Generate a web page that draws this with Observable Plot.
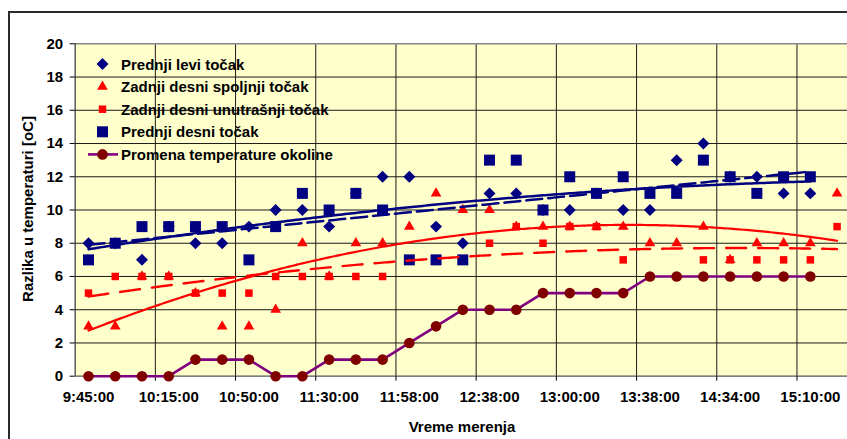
<!DOCTYPE html>
<html><head><meta charset="utf-8">
<script src="https://cdn.jsdelivr.net/npm/d3@7"></script>
<script src="https://cdn.jsdelivr.net/npm/@observablehq/plot@0.6"></script>
<style>
html,body{margin:0;padding:0;background:#fff;overflow:hidden;}
#wrap{position:relative;width:847px;height:439px;overflow:hidden;}
#wrap svg{position:absolute;left:0;top:0;}
#border{position:absolute;left:8px;top:11px;width:900px;height:500px;border-left:2px solid #2b2b2b;border-top:2px solid #2b2b2b;pointer-events:none;}
</style></head><body><div id="wrap"><div id="border"></div></div>
<script>
// ---- data ----
const tickLabels = ["9:45:00","10:15:00","10:50:00","11:30:00","11:58:00","12:38:00","13:00:00","13:38:00","14:34:00","15:10:00"];
const seriesNames = ["Prednji levi točak","Zadnji desni spoljnji točak","Zadnji desni unutrašnji točak","Prednji desni točak","Promena temperature okoline"];
const prednjiLevi   = [8,8,7,9,8,8,9,10,10,9,11,12,12,9,8,11,11,10,10,11,10,10,13,14,12,12,11,11];
const zadnjiSpolj   = [3,3,6,6,5,3,3,4,8,6,8,8,9,11,10,10,9,9,9,9,9,8,8,9,7,8,8,8,11];
const zadnjiUnutr   = [5,6,6,6,5,5,5,6,6,6,6,6,7,7,7,8,9,8,9,9,7,null,null,7,7,7,7,7,9];
const prednjiDesni  = [7,8,9,9,9,9,7,9,11,10,11,10,7,7,7,13,13,10,12,11,12,11,11,13,12,11,12,12];
const okolina       = [0,0,0,0,1,1,1,0,0,1,1,1,2,3,4,4,4,5,5,5,5,6,6,6,6,6,6,6];
const yTicks = [0,2,4,6,8,10,12,14,16,18,20];

// ---- styles ----
const NAVY = "#000080", RED = "#FF0000", PURPLE = "#800080", MAROON = "#800000";
const FONT = "'Liberation Sans', Arial, sans-serif";
const FS = 15;
const nCat = zadnjiSpolj.length;
const labelStep = 3;

// ---- helpers ----
const toPts = arr => arr.map((v, i) => ({i, v})).filter(d => d.v != null);
function solve(A, b) {
  const n = b.length; A = A.map(r => r.slice()); b = b.slice();
  for (let c = 0; c < n; c++) {
    let p = c; for (let r = c + 1; r < n; r++) if (Math.abs(A[r][c]) > Math.abs(A[p][c])) p = r;
    [A[c], A[p]] = [A[p], A[c]]; [b[c], b[p]] = [b[p], b[c]];
    for (let r = c + 1; r < n; r++) { const f = A[r][c] / A[c][c]; for (let k = c; k < n; k++) A[r][k] -= f * A[c][k]; b[r] -= f * b[c]; }
  }
  const x = new Array(n).fill(0);
  for (let r = n - 1; r >= 0; r--) { let s = b[r]; for (let k = r + 1; k < n; k++) s -= A[r][k] * x[k]; x[r] = s / A[r][r]; }
  return x;
}
function polyFit(pts, deg, tx = t => t) {
  const m = deg + 1, A = Array.from({length: m}, () => new Array(m).fill(0)), b = new Array(m).fill(0);
  for (const {i, v} of pts) { const t = tx(i); for (let r = 0; r < m; r++) { b[r] += v * t ** r; for (let c = 0; c < m; c++) A[r][c] += t ** (r + c); } }
  const co = solve(A, b);
  return i => co.reduce((s, c, k) => s + c * tx(i) ** k, 0);
}
function trend(arr, f) {
  const pts = toPts(arr); const last = pts[pts.length - 1].i;
  return d3.range(0, last + 1e-9, 0.1).map(i => ({i, v: f(i)}));
}
const trLevi   = trend(prednjiLevi,  polyFit(toPts(prednjiLevi), 2));
const trDesni  = trend(prednjiDesni, polyFit(toPts(prednjiDesni), 1));
const trSpolj  = trend(zadnjiSpolj,  polyFit(toPts(zadnjiSpolj), 2));
const trUnutr  = trend(zadnjiUnutr,  polyFit(toPts(zadnjiUnutr), 2));

const boundaries = d3.range(labelStep - 0.5, nCat, labelStep);
const labelIdx = tickLabels.map((_, k) => k * labelStep);

const chart = Plot.plot({
  width: 847, height: 439,
  marginLeft: 74.65, marginRight: 0, marginTop: 43.3, marginBottom: 63.3,
  x: {type: "linear", domain: [-0.5, 28.39]},
  y: {domain: [0, 20]},
  style: {fontFamily: FONT, fontSize: FS + "px", fontWeight: "bold", color: "#000", background: "transparent", overflow: "visible"},
  marks: [
    Plot.frame({fill: "#FFFFCC", stroke: null}),
    Plot.ruleY(yTicks.filter(t => t > 0 && t < 20), {stroke: "#1a1a1a", strokeWidth: 1}),
    Plot.ruleX(boundaries, {stroke: "#1a1a1a", strokeWidth: 1}),
    Plot.ruleY([20], {stroke: "#888", strokeWidth: 1.5}),
    Plot.ruleY([0], {stroke: "#555", strokeWidth: 1.2}),
    Plot.ruleX([-0.5], {stroke: "#333", strokeWidth: 1.2}),
    Plot.axisY({ticks: yTicks, tickSize: 5, tickPadding: 7, label: null, fontWeight: "bold", fontSize: FS}),
    Plot.axisX({ticks: labelIdx, tickFormat: i => tickLabels[i / labelStep], tickSize: 0, tickPadding: 15, label: null, fontWeight: "bold", fontSize: FS}),
    Plot.axisX({ticks: boundaries, tickFormat: () => "", tickSize: 5, label: null}),
    Plot.dot(toPts(prednjiLevi), {x: "i", y: "v", symbol: "diamond2", r: 5.4, fill: NAVY, stroke: null}),
    Plot.dot(toPts(zadnjiSpolj), {x: "i", y: "v", symbol: "triangle", r: 3.97, fill: RED, stroke: null}),
    Plot.dot(toPts(zadnjiUnutr), {x: "i", y: "v", symbol: "square", r: 4.23, fill: RED, stroke: null}),
    Plot.dot(toPts(prednjiDesni), {x: "i", y: "v", symbol: "square", r: 6.2, fill: NAVY, stroke: null}),
    Plot.line(toPts(okolina), {x: "i", y: "v", stroke: PURPLE, strokeWidth: 2.6}),
    Plot.dot(toPts(okolina), {x: "i", y: "v", r: 5.3, fill: MAROON, stroke: null}),
    Plot.line(trLevi, {x: "i", y: "v", stroke: NAVY, strokeWidth: 2.5, curve: "linear"}),
    Plot.line(trDesni, {x: "i", y: "v", stroke: NAVY, strokeWidth: 2.5, strokeDasharray: "16,6"}),
    Plot.line(trSpolj, {x: "i", y: "v", stroke: RED, strokeWidth: 2.2}),
    Plot.line(trUnutr, {x: "i", y: "v", stroke: RED, strokeWidth: 2.4, strokeDasharray: "20,12"})
  ]
});

const svg = d3.select(chart);
// axis titles
svg.append("text").attr("transform", "translate(27.5,209) rotate(-90)")
  .attr("text-anchor", "middle").attr("dominant-baseline", "central")
  .attr("font-family", FONT).attr("font-size", FS).attr("font-weight", "bold").attr("fill", "#000")
  .text("Razlika u temperaturi [oC]");
svg.append("text").attr("x", 462).attr("y", 426.5)
  .attr("text-anchor", "middle").attr("dominant-baseline", "central")
  .attr("font-family", FONT).attr("font-size", FS).attr("font-weight", "bold").attr("fill", "#000")
  .text("Vreme merenja");

// legend
const legendSym = [
  {sym: d3.symbolDiamond2, size: Math.PI * 5.4 ** 2, fill: NAVY},
  {sym: d3.symbolTriangle, size: Math.PI * 3.97 ** 2, fill: RED},
  {sym: d3.symbolSquare, size: Math.PI * 4.23 ** 2, fill: RED},
  {sym: d3.symbolSquare, size: Math.PI * 6.2 ** 2, fill: NAVY},
  {sym: d3.symbolCircle, size: Math.PI * 5.3 ** 2, fill: MAROON, line: true}
];
const lg = svg.append("g").attr("text-anchor", "start");
seriesNames.forEach((name, k) => {
  const y = 64 + k * 22.6, s = legendSym[k];
  if (s.line) lg.append("line").attr("x1", 88).attr("x2", 118).attr("y1", y).attr("y2", y).attr("stroke", PURPLE).attr("stroke-width", 2.6);
  lg.append("path").attr("d", d3.symbol(s.sym, s.size)()).attr("transform", `translate(102.5,${y})`).attr("fill", s.fill);
  lg.append("text").attr("x", 121).attr("y", y).attr("dominant-baseline", "central").attr("text-anchor", "start")
    .attr("font-family", FONT).attr("font-size", FS).attr("font-weight", "bold").attr("fill", "#000").text(name);
});

document.getElementById("wrap").prepend(chart);
</script>
</body></html>
